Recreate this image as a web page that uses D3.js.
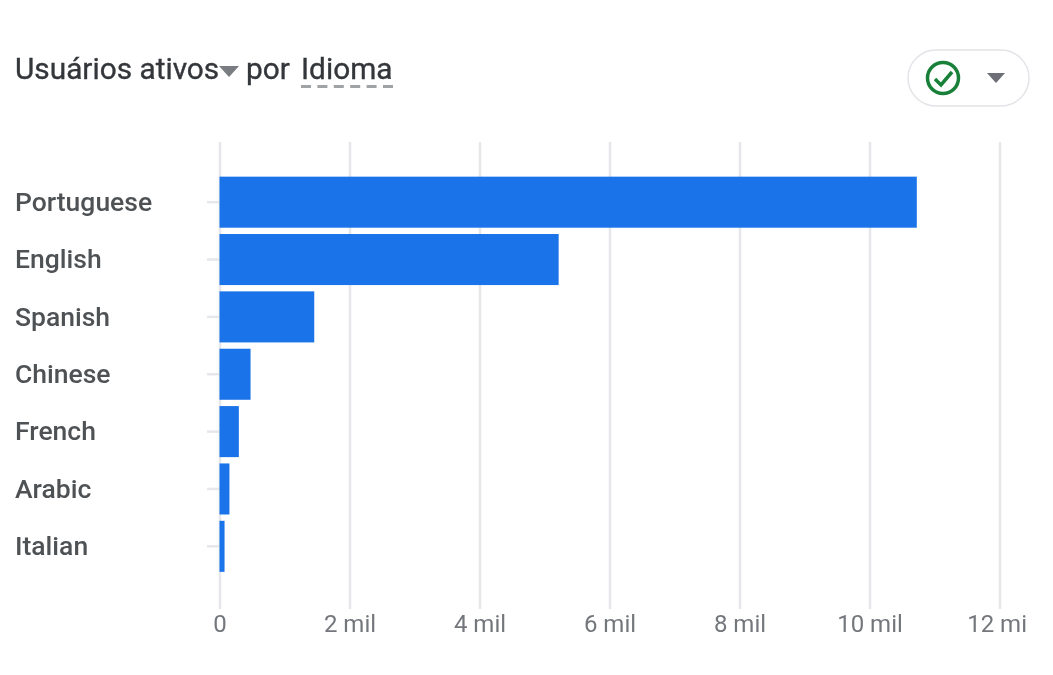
<!DOCTYPE html>
<html>
<head>
<meta charset="utf-8">
<script src="https://cdn.jsdelivr.net/npm/d3@7"></script>
<style>
  body { margin: 0; background: #fff; }
  text { font-family: Roboto, sans-serif; }
  /* the reference is a slightly soft screenshot */
  svg { filter: blur(0.5px); }
</style>
</head>
<body>
<div class="canvas"></div>
<script>
// values
const languages = ['Portuguese', 'English', 'Spanish', 'Chinese', 'French', 'Arabic', 'Italian'];
const activeUsers = [10720, 5210, 1450, 470, 290, 145, 70];
const xTicks = [0, 2000, 4000, 6000, 8000, 10000, 12000];
const xTickLabels = ['0', '2 mil', '4 mil', '6 mil', '8 mil', '10 mil', '12 mil'];

const svg = d3.select('.canvas')
  .append('svg')
  .attr('width', 1053)
  .attr('height', 675)
  .style('display', 'block');

// the last tick label is cut off at the card edge
svg.append('clipPath')
  .attr('id', 'card-clip')
  .append('rect')
  .attr('x', 0)
  .attr('y', 0)
  .attr('width', 1028)
  .attr('height', 675);

// scales
const x = d3.scaleLinear()
  .domain([0, 12000])
  .range([220, 1000]);

const y = d3.scaleBand()
  .domain(languages)
  .range([173.5, 575])
  .paddingInner(0.11)
  .paddingOuter(0.055);

// gridlines
svg.append('g')
  .selectAll('line')
  .data(xTicks)
  .enter()
  .append('line')
  .attr('x1', d => x(d))
  .attr('x2', d => x(d))
  .attr('y1', 142)
  .attr('y2', 609)
  .attr('stroke', '#e6e7ea')
  .attr('stroke-width', 2.5);

// small ticks next to the category labels
svg.append('g')
  .selectAll('line')
  .data(languages)
  .enter()
  .append('line')
  .attr('x1', 207)
  .attr('x2', 220)
  .attr('y1', d => y(d) + y.bandwidth() / 2)
  .attr('y2', d => y(d) + y.bandwidth() / 2)
  .attr('stroke', '#e6e7ea')
  .attr('stroke-width', 2.5);

// bars
svg.append('g')
  .selectAll('rect')
  .data(activeUsers)
  .enter()
  .append('rect')
  .attr('x', x(0) - 0.5)
  .attr('y', (d, i) => y(languages[i]))
  .attr('width', d => x(d) - x(0) + 0.5)
  .attr('height', y.bandwidth())
  .attr('fill', '#1a73e8');

// category labels
svg.append('g')
  .selectAll('text')
  .data(languages)
  .enter()
  .append('text')
  .attr('x', 15)
  .attr('y', d => y(d) + y.bandwidth() / 2)
  .attr('dy', '0.33em')
  .attr('font-size', 26.5)
  .attr('font-weight', 500)
  .attr('fill', '#4f5255')
  .text(d => d);

// x tick labels
svg.append('g')
  .attr('clip-path', 'url(#card-clip)')
  .selectAll('text')
  .data(xTicks)
  .enter()
  .append('text')
  .attr('x', d => x(d))
  .attr('y', 632)
  .attr('text-anchor', 'middle')
  .attr('font-size', 24)
  .attr('fill', '#73777c')
  .text((d, i) => xTickLabels[i]);

// title
const title = svg.append('text')
  .attr('y', 79)
  .attr('font-size', 29.8)
  .attr('font-weight', 400)
  .attr('fill', '#33363a')
  .attr('stroke', '#33363a')
  .attr('stroke-width', 0.35);
title.append('tspan').attr('x', 15).text('Usuários ativos');
title.append('tspan').attr('x', 246).text('por');
title.append('tspan').attr('x', 301).text('Idioma');

svg.append('path')
  .attr('d', 'M219,66 L239,66 L229,77 Z')
  .attr('fill', '#797c80');

svg.append('line')
  .attr('x1', 301)
  .attr('x2', 393)
  .attr('y1', 86.5)
  .attr('y2', 86.5)
  .attr('stroke', '#a0a3a6')
  .attr('stroke-width', 3)
  .attr('stroke-dasharray', '10 6.4');

// status pill at the top right
svg.append('rect')
  .attr('x', 908)
  .attr('y', 50)
  .attr('width', 121)
  .attr('height', 56)
  .attr('rx', 28)
  .attr('fill', '#fff')
  .attr('stroke', '#e3e4e8')
  .attr('stroke-width', 1.5);

svg.append('circle')
  .attr('cx', 943)
  .attr('cy', 78)
  .attr('r', 15.5)
  .attr('fill', 'none')
  .attr('stroke', '#188038')
  .attr('stroke-width', 3.5);

svg.append('path')
  .attr('d', 'M935,79 L941,85 L952,72')
  .attr('fill', 'none')
  .attr('stroke', '#188038')
  .attr('stroke-width', 3.5);

svg.append('path')
  .attr('d', 'M987,73 L1005,73 L996,83 Z')
  .attr('fill', '#6c6f75');
</script>
</body>
</html>
